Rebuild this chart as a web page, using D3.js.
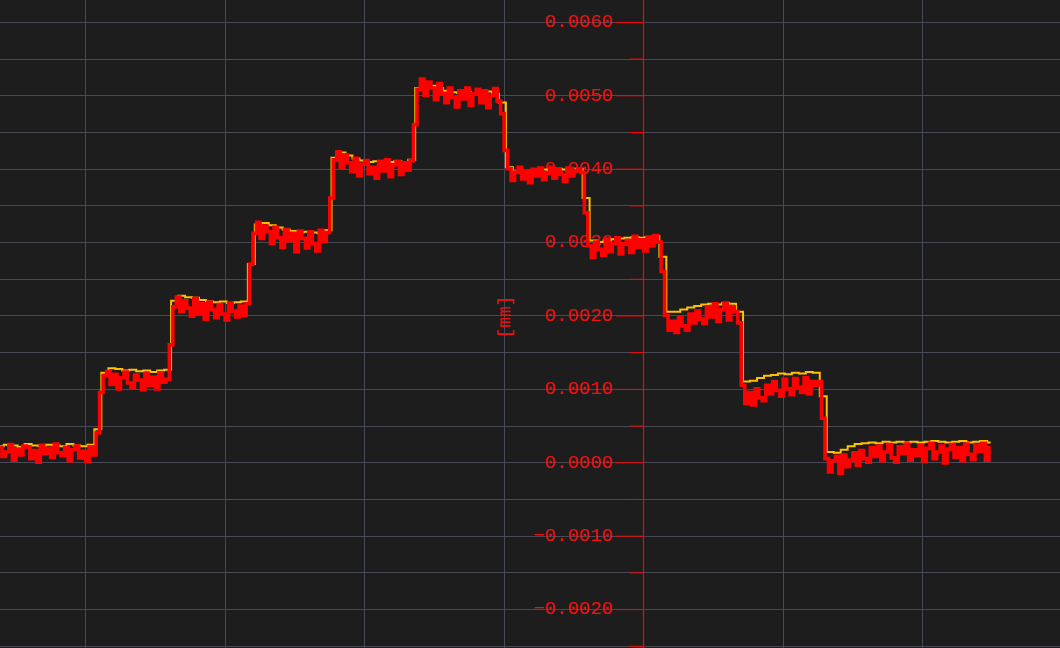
<!DOCTYPE html>
<html>
<head>
<meta charset="utf-8">
<script src="https://cdn.jsdelivr.net/npm/d3@7"></script>
<style>
  html, body { margin: 0; padding: 0; background: #1d1d1d; overflow: hidden; }
  svg { display: block; }
</style>
</head>
<body>
<svg id="chart" width="1060" height="648"></svg>
<script>
// sampling of the two traces (time in s, axis at t = 0)
const t0 = -4.61;
const dtRed = 0.025;
const dtYellow = 0.05;

// displacement, in µm (converted to mm when drawn)
const yellowTrace = [
  0.22, 0.24, 0.23, 0.21, 0.25, 0.23, 0.22, 0.24, 0.23, 0.22, 0.25, 0.23, 0.22, 0.24,
  0.45, 1.22, 1.28, 1.27, 1.25, 1.26, 1.24, 1.25, 1.23, 1.25, 1.26,
  2.2, 2.27, 2.25, 2.24, 2.21, 2.19, 2.18, 2.19, 2.17, 2.18, 2.19,
  2.7, 3.24, 3.26, 3.23, 3.2, 3.17, 3.15, 3.13, 3.14, 3.13, 3.12, 3.16,
  4.15, 4.22, 4.18, 4.14, 4.11, 4.09, 4.1, 4.08, 4.09, 4.1, 4.08, 4.12,
  5.1, 5.16, 5.13, 5.1, 5.06, 5.04, 5.03, 5.04, 5.02, 5.03, 5.05, 5.02, 4.9,
  4.02, 3.96, 3.97, 3.97, 3.98, 3.99, 3.98, 4.0, 3.99, 3.98, 4.0, 3.6,
  3.02, 3.0, 3.02, 3.04, 3.05, 3.06, 3.07, 3.06, 3.07, 3.08, 2.8,
  2.05, 2.05, 2.08, 2.11, 2.13, 2.15, 2.16, 2.15, 2.17, 2.16, 2.05,
  1.1, 1.11, 1.15, 1.18, 1.19, 1.21, 1.2, 1.22, 1.21, 1.23, 1.22, 0.9,
  0.14, 0.13, 0.17, 0.22, 0.25, 0.26, 0.27, 0.26, 0.28, 0.27, 0.28, 0.27, 0.28,
  0.27, 0.28, 0.29, 0.28, 0.27, 0.28, 0.29, 0.27, 0.28, 0.29, 0.27
];

const redTrace = [
  0.2, 0.08, 0.14, 0.24, 0.03, 0.18, 0.1, 0.22, 0.21, 0.05, 0.16, 0.0, 0.23, 0.12,
  0.19, 0.07, 0.25, 0.13, 0.09, 0.2, 0.02, 0.17, 0.22, 0.06, 0.15, 0.01, 0.21, 0.1,
  0.4, 0.95,
  1.18, 1.24, 1.06, 1.2, 1.0, 1.15, 1.23, 1.08, 1.02, 1.19, 1.12, 0.99, 1.21, 1.05,
  1.16, 1.0, 1.22, 1.09, 1.13,
  1.6,
  2.12, 2.25, 2.05, 2.2, 2.1, 1.99, 2.23, 2.03, 2.16, 1.95, 2.18, 2.08, 1.97, 2.15,
  2.02, 1.94, 2.17, 2.06, 1.98, 2.13, 2.0, 2.16,
  2.7,
  3.12, 3.27, 3.05, 3.22, 3.14, 2.98, 3.2, 3.06, 2.93, 3.17, 3.02, 3.12, 2.87, 3.15,
  3.05, 2.92, 3.14, 2.98, 2.88, 3.16, 3.01, 3.13,
  3.6,
  4.12, 4.23, 4.02, 4.19, 4.08, 3.96, 4.14, 3.9, 4.06, 4.11, 3.93, 4.02, 3.87, 4.1,
  3.97, 4.12, 3.89, 4.05, 4.1, 3.92, 4.08, 3.98, 4.11,
  4.6,
  5.08, 5.22, 5.0, 5.18, 5.1, 4.94, 5.16, 5.02, 4.9, 5.1, 4.97, 4.84, 5.06, 4.95,
  5.1, 4.86, 5.02, 5.08, 4.9, 5.06, 4.83, 5.0, 5.09, 4.92,
  4.75, 4.25,
  4.0, 3.84, 3.95, 4.02, 3.86, 3.97, 3.81, 3.99, 3.9, 4.01, 3.85, 3.94, 4.02, 3.87,
  3.99, 3.92, 3.83, 4.01, 3.9, 3.97, 4.0,
  3.95, 3.4,
  2.95, 2.79, 3.0, 2.9, 2.82, 3.04, 2.87, 2.98, 3.06, 2.84, 2.97, 3.02, 2.86, 3.08,
  2.93, 3.03, 2.88, 3.07, 2.95, 3.09, 3.0,
  2.6,
  2.0, 1.8, 1.92, 1.77, 1.97, 1.86, 1.8, 2.02, 1.9, 2.06, 1.95, 1.89, 2.12, 1.98,
  2.16, 1.92, 2.08, 2.17, 1.94, 2.12, 2.05,
  1.9,
  1.05, 0.8, 0.95, 0.78, 1.0, 0.88, 0.84, 1.05, 0.93, 1.1, 0.98, 0.9, 1.13, 1.0,
  0.92, 1.14, 1.02, 0.95, 1.15, 0.93, 1.1, 1.05,
  1.1, 0.6,
  0.05, -0.13, 0.02, 0.08, -0.15, 0.1, -0.06, 0.03, 0.13, -0.04, 0.16, 0.05, 0.0, 0.2,
  0.08, 0.22, 0.02, 0.14, 0.24, 0.06, 0.0, 0.21, 0.12, 0.25, 0.03, 0.17, 0.09, 0.23,
  0.01, 0.19, 0.26, 0.05, 0.14, 0.22, -0.01, 0.18, 0.24, 0.07, 0.2, 0.02, 0.25, 0.11,
  0.04, 0.23, 0.15, 0.26, 0.03, 0.2
];

// axis ticks (mm) and vertical grid (s)
const yTicks = [-0.002, -0.001, 0, 0.001, 0.002, 0.003, 0.004, 0.005, 0.006];
const yMinorTicks = [-0.0025, -0.0015, -0.0005, 0.0005, 0.0015, 0.0025, 0.0035, 0.0045, 0.0055];
const xGridTicks = [-4, -3, -2, -1, 0, 1, 2];
const yTitle = "[mm]";

const svg = d3.select("#chart");
const width = 1060;
const height = 648;

const x = d3.scaleLinear().domain([-4.6115, 2.9871]).range([0, width]);
const y = d3.scaleLinear().domain([-0.00253, 0.006298]).range([height, 0]);

svg.append("rect")
  .attr("width", width)
  .attr("height", height)
  .attr("fill", "#1d1d1d");

// grid
const grid = svg.append("g")
  .attr("stroke", "#474a56")
  .attr("stroke-width", 1)
  .attr("shape-rendering", "crispEdges");

grid.selectAll(".hgrid")
  .data(yTicks.concat(yMinorTicks))
  .enter()
  .append("line")
  .attr("class", "hgrid")
  .attr("x1", 0)
  .attr("x2", width)
  .attr("y1", (d) => Math.round(y(d)) + 0.5)
  .attr("y2", (d) => Math.round(y(d)) + 0.5);

grid.selectAll(".vgrid")
  .data(xGridTicks.filter((d) => d !== 0))
  .enter()
  .append("line")
  .attr("class", "vgrid")
  .attr("y1", 0)
  .attr("y2", height)
  .attr("x1", (d) => Math.round(x(d)) + 0.5)
  .attr("x2", (d) => Math.round(x(d)) + 0.5);

// y axis sits on t = 0 (d3 adds its own half-pixel offset)
const axisX = Math.round(x(0));
const axisG = svg.append("g")
  .attr("transform", `translate(${axisX},0)`)
  .call(
    d3.axisLeft(y)
      .tickValues(yTicks)
      .tickSize(27)
      .tickSizeOuter(0)
      .tickPadding(3)
      .tickFormat(d3.format(".4f"))
  );

axisG.select(".domain").remove();
axisG.selectAll("line").attr("stroke", "#ff0000");
axisG.selectAll("text")
  .attr("fill", "#f01010")
  .attr("dy", "0.25em")
  .style("font-family", "'Liberation Mono', 'DejaVu Sans Mono', monospace")
  .style("font-size", "19px");

const minorG = svg.append("g")
  .attr("transform", `translate(${axisX},0)`)
  .call(
    d3.axisLeft(y)
      .tickValues(yMinorTicks)
      .tickSize(13)
      .tickSizeOuter(0)
      .tickFormat("")
  );
minorG.select(".domain").remove();
minorG.selectAll("line").attr("stroke", "#ff0000");

// axis spine
svg.append("line")
  .attr("x1", axisX + 0.5)
  .attr("x2", axisX + 0.5)
  .attr("y1", 0)
  .attr("y2", height)
  .attr("stroke", "#ff0000")
  .attr("stroke-width", 1.2);

svg.append("text")
  .attr("transform", `translate(505,317) rotate(-90)`)
  .attr("text-anchor", "middle")
  .attr("dominant-baseline", "central")
  .attr("fill", "#f01010")
  .style("font-family", "'Liberation Mono', 'DejaVu Sans Mono', monospace")
  .style("font-size", "18px")
  .text(yTitle);

// traces
const lineFor = (dt) =>
  d3.line()
    .x((d, i) => x(t0 + i * dt))
    .y((d) => y(d / 1000))
    .curve(d3.curveStep);

svg.append("path")
  .datum(yellowTrace)
  .attr("d", lineFor(dtYellow))
  .attr("fill", "none")
  .attr("stroke", "#ffc000")
  .attr("stroke-width", 2);

svg.append("path")
  .datum(redTrace)
  .attr("d", lineFor(dtRed))
  .attr("fill", "none")
  .attr("stroke", "#ff0000")
  .attr("stroke-width", 3.6);
</script>
</body>
</html>
